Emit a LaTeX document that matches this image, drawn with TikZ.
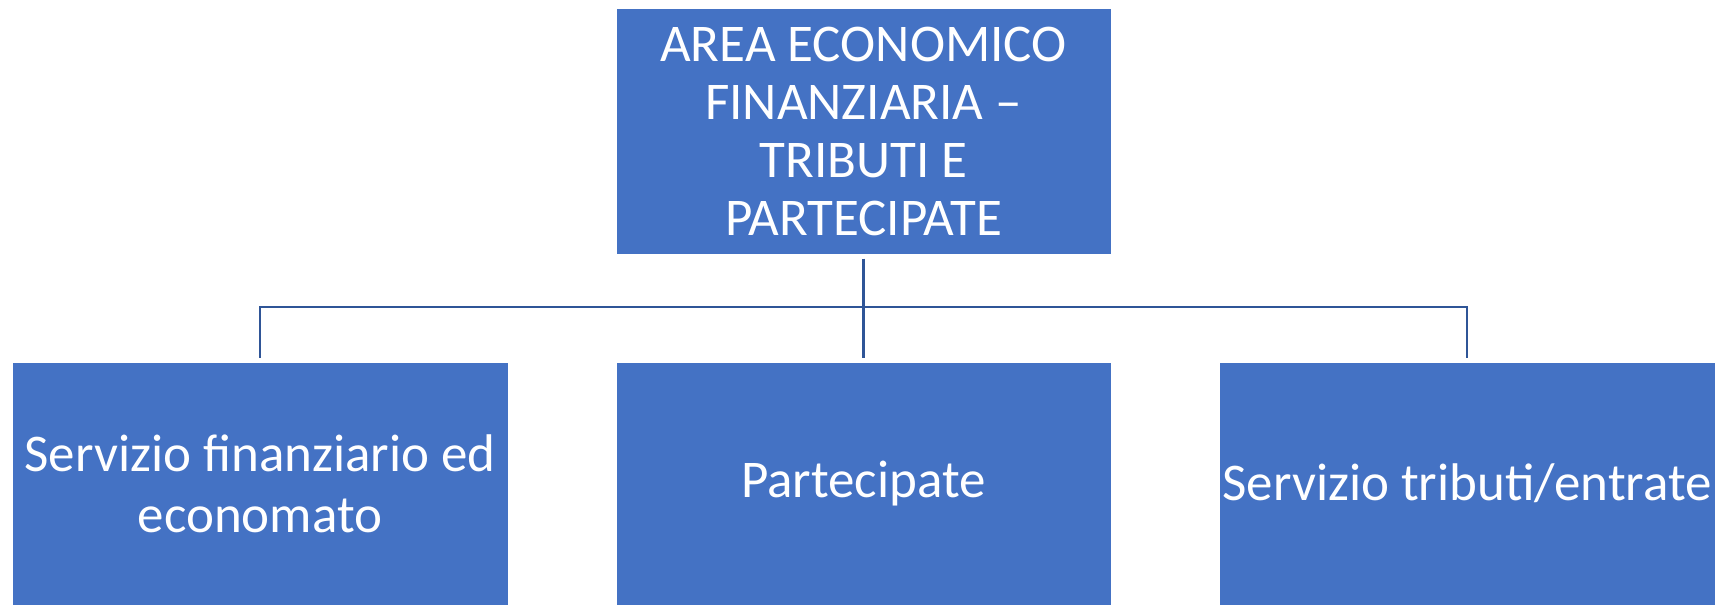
\documentclass[tikz,border=0pt]{standalone}
\usepackage{fontspec}
\setmainfont{Carlito}
\definecolor{boxblue}{HTML}{4472C4}
\definecolor{lineblue}{HTML}{2F5597}
\tikzset{
  orgbox/.style={fill=boxblue, draw=white, line width=1pt, text=white, align=center, inner sep=0pt},
  conn/.style={draw=lineblue, line width=2.2pt}
}
\begin{document}
\begin{tikzpicture}[x=1pt,y=-1pt]
\useasboundingbox (0,0) rectangle (1727,605);
\node[orgbox, minimum width=495pt, minimum height=246pt, font=\fontsize{53}{58}\selectfont] (top) at (863.5,131)
  {AREA ECONOMICO\\FINANZIARIA –\\TRIBUTI E\\PARTECIPATE};
\node[orgbox, minimum width=496pt, minimum height=243pt, font=\fontsize{53}{61}\selectfont] (left) at (260,483.5)
  {Servizio finanziario ed\\economato};
\node[orgbox, minimum width=495pt, minimum height=243pt, font=\fontsize{53}{61}\selectfont] (mid) at (863.5,483.5)
  {Partecipate};
\node[orgbox, minimum width=496pt, minimum height=243pt, font=\fontsize{53}{61}\selectfont] (right) at (1467,483.5)
  {Servizio tributi/entrate};
\coordinate (hl) at (260,307);
\coordinate (hr) at (1467,307);
\draw[conn] ([yshift=-4pt]top.south) -- ([yshift=4pt]mid.north);
\draw[conn] ([yshift=4pt]left.north) -- (hl) -- (hr) -- ([yshift=4pt]right.north);
\end{tikzpicture}
\end{document}
